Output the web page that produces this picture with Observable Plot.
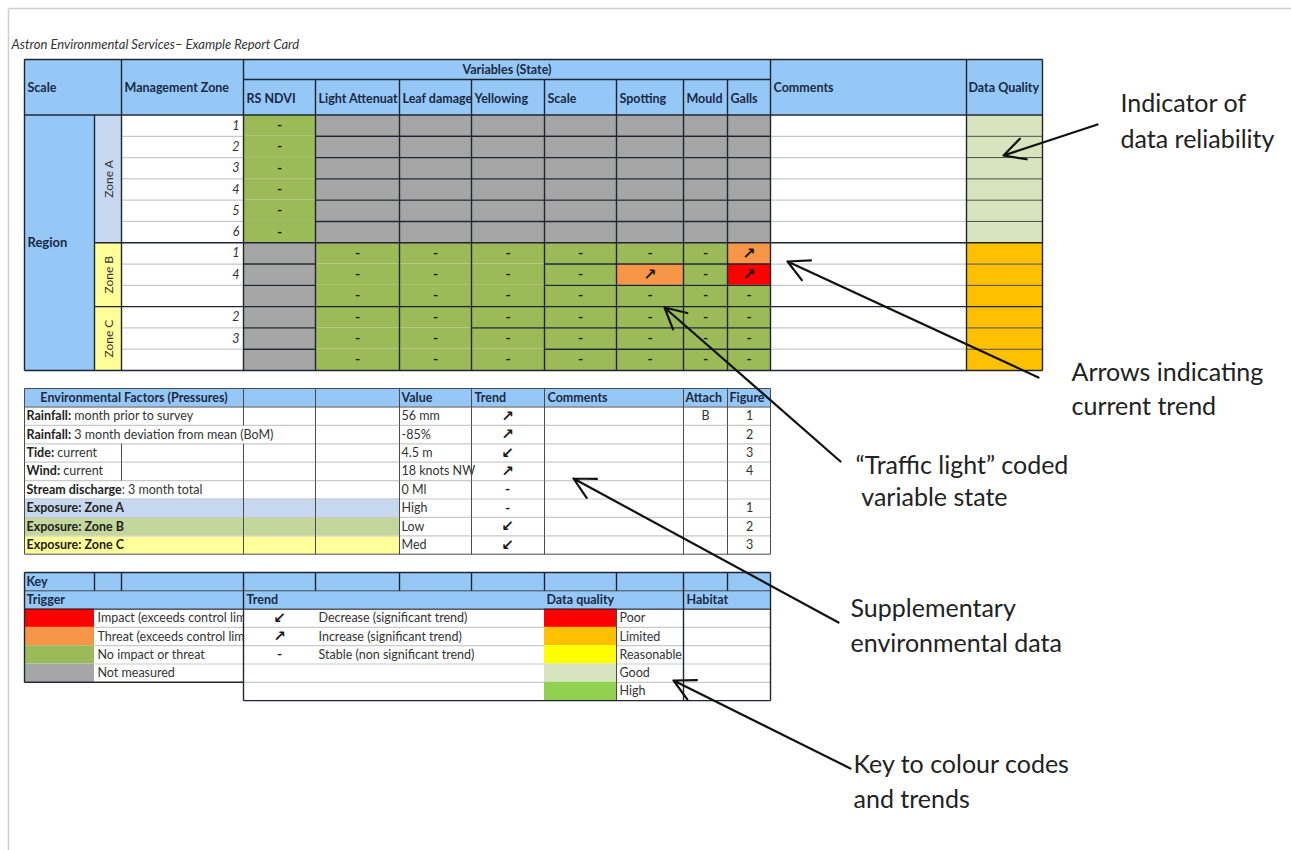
<!DOCTYPE html>
<html><head><meta charset="utf-8">
<script src="https://cdn.jsdelivr.net/npm/d3@7"></script>
<script src="https://cdn.jsdelivr.net/npm/@observablehq/plot@0.6"></script>
<style>html,body{margin:0;padding:0;background:#fff}svg{display:block}</style>
</head><body><div id="chart"></div>
<script>
// ================= DATA =================
const title = "Astron Environmental Services– Example Report Card";
const scaleName = "Region";
const zones = ["Zone A", "Zone B", "Zone C"];
const zoneRowCounts = [6, 3, 3];
const managementZones = ["1","2","3","4","5","6","1","4","","2","3",""];
const variables = ["RS NDVI","Light Attenuat","Leaf damage","Yellowing","Scale","Spotting","Mould","Galls"];
// one char per variable: N = not measured, G = no impact or threat, T = threat, I = impact
const variableStates = [
  "GNNNNNNN","GNNNNNNN","GNNNNNNN","GNNNNNNN","GNNNNNNN","GNNNNNNN",
  "NGGGGGGT","NGGGGTGI","NGGGGGGG",
  "NGGGGGGG","NGGGGGGG","NGGGGGGG"
];
// one char per variable: - = stable, U = increase, D = decrease, space = none
const variableTrends = [
  "-       ","-       ","-       ","-       ","-       ","-       ",
  " ------U"," ----U-U"," -------",
  " -------"," -------"," -------"
];
const dataQuality = ["Good","Good","Good","Good","Good","Good","Limited","Limited","Limited","Limited","Limited","Limited"];

const envBold = ["Rainfall:","Rainfall:","Tide:","Wind:","Stream discharge","Exposure: Zone A","Exposure: Zone B","Exposure: Zone C"];
const envRest = [" month prior to survey"," 3 month deviation from mean (BoM)"," current"," current",": 3 month total","","",""];
const envValues = ["56 mm","-85%","4.5 m","18 knots NW","0 Ml","High","Low","Med"];
const envTrends = ["U","U","D","U","-","-","D","D"];
const envAttach = ["B","","","","","","",""];
const envFigure = ["1","2","3","4","","1","2","3"];

const triggerStates = ["I","T","G","N"];
const triggerLabels = ["Impact (exceeds control limit)","Threat (exceeds control limit)","No impact or threat","Not measured"];
const trendKeys = ["D","U","-"];
const trendLabels = ["Decrease (significant trend)","Increase (significant trend)","Stable (non significant trend)"];
const qualityLevels = ["Poor","Limited","Reasonable","Good","High"];

const annotations = [
  ["Indicator of","data reliability"],
  ["Arrows indicating","current trend"],
  ["\u201CTraffic light\u201D coded"," variable state"],
  ["Supplementary","environmental data"],
  ["Key to colour codes","and trends"]
];

// ================= STYLE / LAYOUT =================
const FONT = "Lato, 'Open Sans', sans-serif";
const ARROWFONT = "'DejaVu Sans', sans-serif";
const FS = 12.5;
const BLUE = "#95c7f7";
const INK = "#1b2a44";
const stateColor = {N:"#a6a6a6", G:"#9bbb59", T:"#f79646", I:"#ff0000"};
const qualityColor = {Poor:"#ff0000", Limited:"#ffc000", Reasonable:"#ffff00", Good:"#d7e4bd", High:"#92d050"};
const zoneFill = ["#c6d9f1", "#ffff99", "#ffff99"];
const exposureFill = ["#c6d9f1", "#c3d69b", "#ffff99"];
const glyph = {U:"\u2197", D:"\u2199", "-":"-", " ":""};

const X = {l:24, reg:94, zone:121, mgmt:243, vars:[243,315,399,471,544,616,683,727,770], comm:966, r:1042};
const Y = {top:59, split:79, head:114.5, bottom:370};
const rowH = (Y.bottom - Y.head) / managementZones.length;
const rowY = i => Y.head + i * rowH;
// merged (no inner row lines) variable cells per zone: zone -> {varIndex: "all" | [local boundaries skipped]}
const merged = [{0:"all"}, {1:"all",2:"all",3:"all"}, {1:"all",2:"all",3:[2]}];

const E = {top:388, head:406.5, rowH:18.4};
const envY = i => E.head + i * E.rowH;
const envCols = [243,315,399,471,544,683,727];
const K = {top:572, rowH:18.3};
const keyY = i => K.top + i * K.rowH;

const annLayout = [
  {x:1120, y:[103,139], a:[1097,124,1003,155]},
  {x:1071, y:[372,406], a:[1038,377,787,261]},
  {x:855,  y:[465,497], a:[840,461,664,307]},
  {x:850,  y:[608,643], a:[838,622,573,478]},
  {x:853,  y:[764,799], a:[850,768,673,680]}
];

// ================= BUILD =================
const rects = [], covers = [], dark = [], light = [], mid = [], frame = [];
const seg = (arr, x1, y1, x2, y2) => arr.push({x1, y1, x2, y2});
const T = {hdr:[], region:[], zone:[], mgmt:[], cell:[], arrowCell:[], envHead:[], envBoldT:[], envT:[], envArrow:[], keyHead:[], trigT:[], keyT:[], keyArrow:[], keyDash:[]};

// main table fills
rects.push({x1:X.l, x2:X.r, y1:Y.top, y2:Y.head, fill:BLUE});
rects.push({x1:X.l, x2:X.reg, y1:Y.head, y2:Y.bottom, fill:BLUE});
let start = 0;
const zoneStarts = [];
zones.forEach((z, i) => {
  const n = zoneRowCounts[i];
  zoneStarts.push(start);
  rects.push({x1:X.reg, x2:X.zone, y1:rowY(start), y2:rowY(start + n), fill:zoneFill[i]});
  T.zone.push({x:(X.reg + X.zone) / 2 + 1, y:(rowY(start) + rowY(start + n)) / 2, text:z});
  start += n;
});
managementZones.forEach((m, r) => {
  const y1 = rowY(r), y2 = rowY(r + 1), ym = (y1 + y2) / 2;
  T.mgmt.push({x:X.mgmt - 4, y:ym, text:m});
  variables.forEach((v, j) => {
    const s = variableStates[r][j];
    rects.push({x1:X.vars[j], x2:X.vars[j + 1], y1, y2, fill:stateColor[s]});
    const g = glyph[variableTrends[r][j]];
    const cx = (X.vars[j] + X.vars[j + 1]) / 2;
    if (g === "-") T.cell.push({x:cx, y:ym, text:g});
    else if (g) T.arrowCell.push({x:cx, y:ym, text:g});
  });
  rects.push({x1:X.comm, x2:X.r, y1, y2, fill:qualityColor[dataQuality[r]]});
});

// main table headers
T.hdr.push({x:X.l + 3, y:87, text:"Scale"});
T.hdr.push({x:X.zone + 3, y:87, text:"Management Zone"});
T.hdr.push({x:X.vars[8] + 3, y:87, text:"Comments"});
T.hdr.push({x:X.comm + 2, y:87, text:"Data Quality"});
T.hdr.push({x:(X.vars[0] + X.vars[8]) / 2, y:69, text:"Variables (State)", anchor:"middle"});
variables.forEach((v, j) => T.hdr.push({x:X.vars[j] + 3, y:98, text:v}));
T.region.push({x:X.l + 3, y:(Y.head + Y.bottom) / 2, text:scaleName});

// main table lines
seg(dark, X.l, Y.top, X.r, Y.top); seg(dark, X.l, Y.bottom, X.r, Y.bottom);
seg(dark, X.l, Y.top, X.l, Y.bottom); seg(dark, X.r, Y.top, X.r, Y.bottom);
seg(dark, X.vars[0], Y.split, X.vars[8], Y.split);
seg(dark, X.l, Y.head, X.r, Y.head);
[X.zone, X.mgmt, X.vars[8], X.comm].forEach(x => seg(dark, x, Y.top, x, Y.bottom));
seg(dark, X.reg, Y.head, X.reg, Y.bottom);
X.vars.slice(1, 8).forEach(x => seg(dark, x, Y.split, x, Y.bottom));
zoneStarts.slice(1).forEach(s => seg(dark, X.reg, rowY(s), X.r, rowY(s)));
zones.forEach((z, zi) => {
  for (let b = 1; b < zoneRowCounts[zi]; b++) {
    const y = rowY(zoneStarts[zi] + b);
    seg(light, X.zone, y, X.mgmt, y);
    seg(light, X.vars[8], y, X.comm, y);
    seg(mid, X.comm, y, X.r, y);
    variables.forEach((v, j) => {
      const m = merged[zi][j];
      if (m === "all" || (Array.isArray(m) && m.includes(b))) return;
      seg(dark, X.vars[j], y, X.vars[j + 1], y);
    });
  }
});

// environmental factors table
rects.push({x1:X.l, x2:X.vars[8], y1:E.top, y2:E.head, fill:BLUE});
const measure = (() => {
  const ctx = document.createElement("canvas").getContext("2d");
  return (s, f) => { ctx.font = f; return ctx.measureText(s).width; };
})();
envBold.forEach((b, i) => {
  const y1 = envY(i), y2 = envY(i + 1), ym = (y1 + y2) / 2;
  if (i >= 5) rects.push({x1:X.l, x2:399, y1, y2, fill:exposureFill[i - 5]});
  T.envBoldT.push({x:X.l + 2, y:ym, text:b});
  if (envRest[i]) T.envT.push({x:X.l + 2 + measure(b, `bold ${FS}px Lato`), y:ym, text:envRest[i]});
  T.envT.push({x:401, y:ym, text:envValues[i]});
  const g = glyph[envTrends[i]];
  if (g === "-") T.cell.push({x:507, y:ym, text:g});
  else T.envArrow.push({x:507, y:ym, text:g});
  if (envAttach[i]) T.envT.push({x:705, y:ym, text:envAttach[i], anchor:"middle"});
  if (envFigure[i]) T.envT.push({x:749, y:ym, text:envFigure[i], anchor:"middle"});
  if (i > 0) seg(light, X.l, y1, X.vars[8], y1);
  envCols.forEach(x => { if (!(x === 243 && i === 1)) seg(mid, x, y1, x, y2); });
  if (i === 2 || i === 3) seg(mid, 121, y1, 121, y2);
});
const eBottom = envY(envBold.length);
T.envHead.push({x:(X.l + 243) / 2, y:(E.top + E.head) / 2, text:"Environmental Factors (Pressures)", anchor:"middle"});
[["Value",401],["Trend",474],["Comments",547],["Attach",685],["Figure",729]].forEach(([t, x]) => T.envHead.push({x, y:(E.top + E.head) / 2, text:t}));
[243,315,399,471,544,683,727].forEach(x => seg(mid, x, E.top, x, E.head));
seg(mid, X.l, E.top, X.vars[8], E.top); seg(mid, X.l, eBottom, X.vars[8], eBottom);
seg(mid, X.l, E.top, X.l, eBottom); seg(mid, X.vars[8], E.top, X.vars[8], eBottom);
seg(mid, X.l, E.head, X.vars[8], E.head);

// key table
rects.push({x1:X.l, x2:X.vars[8], y1:keyY(0), y2:keyY(2), fill:BLUE});
T.keyHead.push({x:X.l + 2, y:(keyY(0) + keyY(1)) / 2, text:"Key"});
[["Trigger",X.l + 2],["Trend",246],["Data quality",546],["Habitat",686]].forEach(([t, x]) => T.keyHead.push({x, y:(keyY(1) + keyY(2)) / 2, text:t}));
triggerStates.forEach((s, k) => {
  rects.push({x1:X.l, x2:X.reg, y1:keyY(2 + k), y2:keyY(3 + k), fill:stateColor[s]});
  T.trigT.push({x:97, y:(keyY(2 + k) + keyY(3 + k)) / 2, text:triggerLabels[k]});
  if (k > 0) seg(light, X.reg, keyY(2 + k), 243, keyY(2 + k));
});
// the trend block hides overflowing trigger text (as spreadsheet cells do)
covers.push({x1:243, x2:544, y1:keyY(2), y2:keyY(7), fill:"#fff"});
trendKeys.forEach((t, k) => {
  const ym = (keyY(2 + k) + keyY(3 + k)) / 2;
  const g = glyph[t];
  if (g === "-") T.keyDash.push({x:279, y:ym, text:g});
  else T.keyArrow.push({x:279, y:ym, text:g});
  T.keyT.push({x:318, y:ym, text:trendLabels[k]});
});
qualityLevels.forEach((q, k) => {
  rects.push({x1:544, x2:616, y1:keyY(2 + k), y2:keyY(3 + k), fill:qualityColor[q]});
  T.keyT.push({x:619, y:(keyY(2 + k) + keyY(3 + k)) / 2, text:q});
  if (k > 0) { seg(light, 243, keyY(2 + k), 544, keyY(2 + k)); seg(light, 616, keyY(2 + k), X.vars[8], keyY(2 + k)); }
});
seg(dark, X.l, keyY(0), X.vars[8], keyY(0));
seg(mid, X.l, keyY(1), X.vars[8], keyY(1));
seg(dark, X.l, keyY(2), X.vars[8], keyY(2));
seg(dark, X.l, keyY(0), X.l, keyY(6)); seg(dark, X.l, keyY(6), 243, keyY(6));
seg(dark, 243, keyY(0), 243, keyY(7)); seg(dark, 243, keyY(7), X.vars[8], keyY(7));
seg(dark, X.vars[8], keyY(0), X.vars[8], keyY(7));
[94,121,315,399,471,544,616,683,727].forEach(x => seg(dark, x, keyY(0), x, keyY(1)));
seg(dark, 683, keyY(1), 683, keyY(7));
seg(mid, 616, keyY(2), 616, keyY(7));

// page frame
seg(frame, 8, 8, 1291, 8); seg(frame, 8, 8, 8, 850);

// annotations
const annText = [], annArrows = [];
annotations.forEach((lines, i) => {
  const L = annLayout[i];
  lines.forEach((t, j) => annText.push({x:L.x, y:L.y[j], text:t}));
  annArrows.push({x1:L.a[0], y1:L.a[1], x2:L.a[2], y2:L.a[3]});
});

// ================= PLOT =================
const txt = (data, o) => Plot.text(data, {x:"x", y:"y", text:"text", textAnchor:"start", lineAnchor:"middle", fontFamily:FONT, ...o});
const startOnly = d => d.filter(e => !e.anchor), midOnly = d => d.filter(e => e.anchor === "middle");
const link = (data, stroke, w) => Plot.link(data, {x1:"x1", y1:"y1", x2:"x2", y2:"y2", stroke, strokeWidth:w});
const box = data => Plot.rect(data, {x1:"x1", x2:"x2", y1:"y1", y2:"y2", fill:"fill"});
const arrowGlyph = (data, fs) => txt(data, {fontSize:fs, fontWeight:"bold", fill:"#1a1a1a", textAnchor:"middle", fontFamily:ARROWFONT});
const dash = data => txt(data, {fontSize:14, fontWeight:"bold", fill:"#1a1a1a", textAnchor:"middle"});

const chart = Plot.plot({
  width:1291, height:850, margin:0,
  x:{domain:[0,1291], range:[0,1291], axis:null},
  y:{domain:[0,850], range:[0,850], axis:null},
  color:{type:"identity"},
  style:{background:"#fff", overflow:"visible"},
  marks:[
    box(rects),
    txt(T.trigT, {fontSize:FS, fill:"#333"}),
    box(covers),
    link(frame, "#cfcfcf", 1.5),
    link(light, "#c9c9c9", 1.2),
    link(mid, "#4a4a4a", 1),
    link(dark, "#1e2430", 1.4),
    txt([{x:11, y:44, text:title}], {fontSize:13, fontStyle:"italic", fill:"#333"}),
    txt(startOnly(T.hdr), {fontSize:FS, fontWeight:"bold", fill:INK}),
    txt(midOnly(T.hdr), {fontSize:FS, fontWeight:"bold", fill:INK, textAnchor:"middle"}),
    txt(T.region, {fontSize:13, fontWeight:"bold", fill:INK}),
    txt(T.zone, {fontSize:12, fill:"#333", textAnchor:"middle", rotate:-90}),
    txt(T.mgmt, {fontSize:FS, fontStyle:"italic", fill:"#333", textAnchor:"end"}),
    dash(T.cell),
    arrowGlyph(T.arrowCell, 16),
    txt(startOnly(T.envHead), {fontSize:FS, fontWeight:"bold", fill:INK}),
    txt(midOnly(T.envHead), {fontSize:FS, fontWeight:"bold", fill:INK, textAnchor:"middle"}),
    txt(T.envBoldT, {fontSize:FS, fontWeight:"bold", fill:"#222"}),
    txt(startOnly(T.envT), {fontSize:FS, fill:"#333"}),
    txt(midOnly(T.envT), {fontSize:FS, fill:"#333", textAnchor:"middle"}),
    arrowGlyph(T.envArrow, 15),
    txt(T.keyHead, {fontSize:FS, fontWeight:"bold", fill:INK}),
    txt(T.keyT, {fontSize:FS, fill:"#333"}),
    arrowGlyph(T.keyArrow, 15),
    dash(T.keyDash),
    txt(annText, {fontSize:25, fill:"#222"}),
    Plot.arrow(annArrows, {x1:"x1", y1:"y1", x2:"x2", y2:"y2", stroke:"#111", strokeWidth:2.2, headLength:16, headAngle:55})
  ]
});
document.getElementById("chart").appendChild(chart);
</script>
</body></html>
